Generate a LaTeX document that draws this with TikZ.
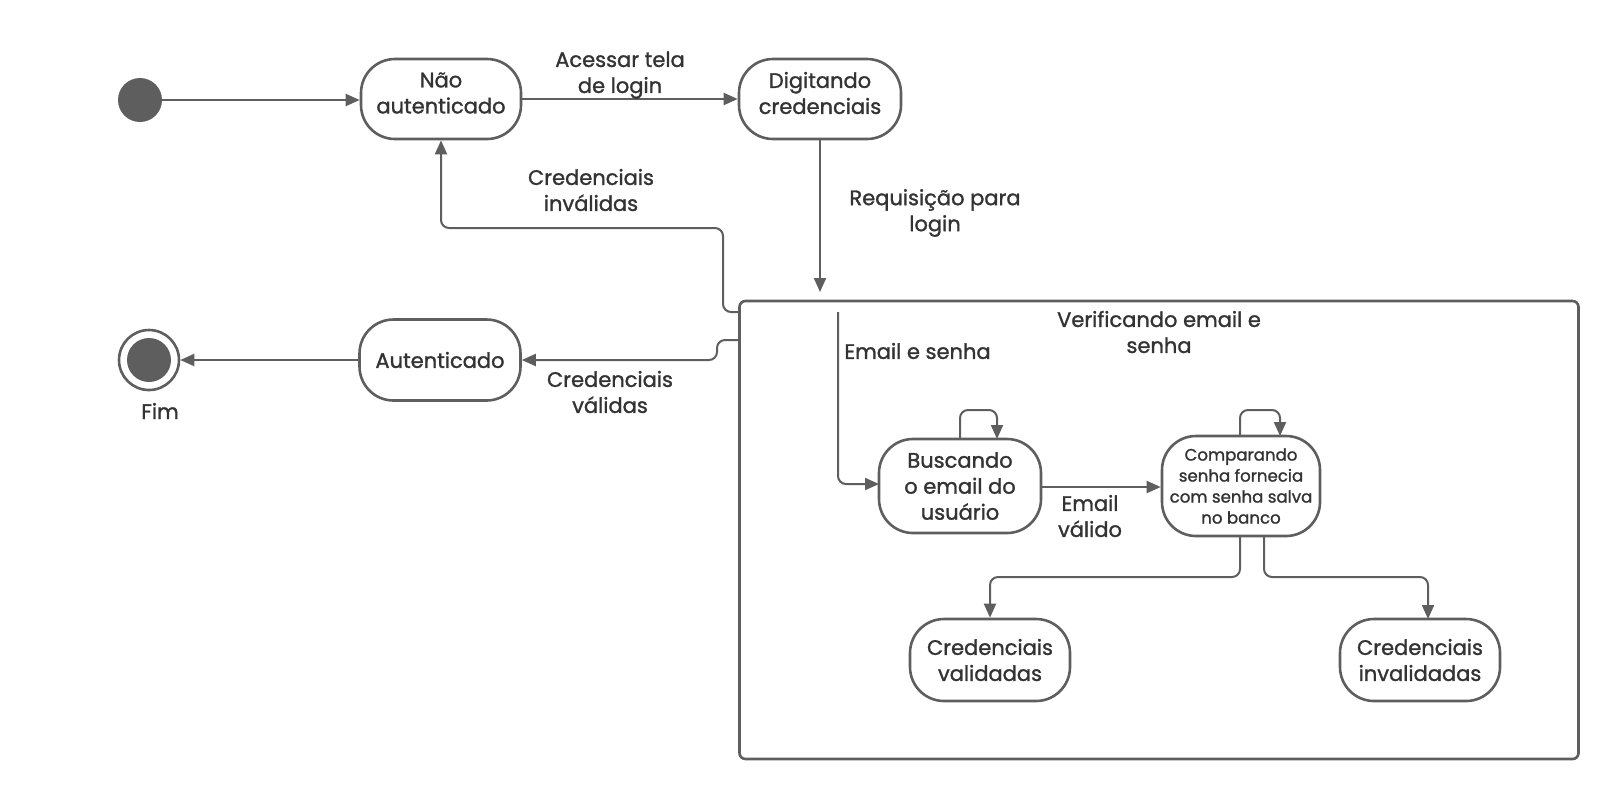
\documentclass[tikz,border=0pt]{standalone}
\usepackage{fontspec}
\setmainfont{Poppins}[FakeBold=1.3]
\usetikzlibrary{arrows.meta}
\definecolor{ln}{HTML}{5E5E5E}
\definecolor{tx}{HTML}{333333}
\begin{document}
\begin{tikzpicture}[x=0.5pt,y=-0.5pt,
  every node/.style={text=tx,font=\fontsize{10.5}{13}\selectfont},
  state/.style={draw=ln,line width=1.3pt,rounded corners=17pt,fill=white,align=center,inner sep=0pt},
  conn/.style={draw=ln,line width=1pt,rounded corners=4pt,-{Triangle[length=7pt,width=6pt]}},
  lbl/.style={align=center,inner sep=0pt},
  intext/.style={label={[lbl,yshift=3pt]center:#1}},
  small/.style={font=\fontsize{8.3}{10.5}\selectfont}]
\useasboundingbox (0,0) rectangle (1620,800);
% initial and final
\node[circle,fill=ln,minimum size=22pt,inner sep=0pt] (start) at (140,100) {};
\node[circle,draw=ln,line width=1.3pt,minimum size=30pt,inner sep=0pt] (fim) at (149,360) {};
\node[circle,fill=ln,minimum size=22pt,inner sep=0pt] (fimin) at (149,360) {};
\node[lbl] (fimlbl) at (160,411) {Fim};
% top states
\node[state,minimum width=80pt,minimum height=40pt,intext={Não\\autenticado}] (nao) at (441,99) {};
\node[state,minimum width=81pt,minimum height=40pt,intext={Digitando\\credenciais}] (dig) at (820,99) {};
\node[state,minimum width=80.5pt,minimum height=40.5pt] (aut) at (440,360) {Autenticado};
% composite box
\node[draw=ln,line width=1.3pt,rounded corners=3pt,minimum width=419.5pt,minimum height=229pt,inner sep=0pt] (box) at (1159,530) {};
\node[lbl] (boxlbl) at (1159,332) {Verificando email e\\senha};
% inner states
\node[state,minimum width=81pt,minimum height=47pt] (busc) at (960,486) {Buscando\\o email do\\usuário};
\node[state,small,minimum width=79pt,minimum height=50pt] (comp) at (1241,486) {Comparando\\senha fornecia\\com senha salva\\no banco};
\node[state,minimum width=80pt,minimum height=41pt] (cval) at (990,660) {Credenciais\\validadas};
\node[state,minimum width=80pt,minimum height=41pt] (cinv) at (1420,660) {Credenciais\\invalidadas};
% coordinates
\coordinate (reqend) at (820,292);
\coordinate (boxA) at (740,312);
\coordinate (boxB) at (740,340);
\coordinate (inA) at (838,312);
\coordinate (buscin) at (879,484);
% connectors
\draw[conn] (start) -- (nao.west |- start);
\draw[conn] (nao.east) -- (dig.west);
\draw[conn] (dig.south) -- (reqend);
\draw[conn] (boxA) -- (723,312) -- (723,228) -- (441,228) -- (nao.south);
\draw[conn] (boxB) -- (717,340) -- (717,360) -- (aut.east);
\draw[conn] (aut.west) -- (fim.east);
\draw[conn] (inA) -- (838,484) -- (buscin);
\draw[conn] (960,439) -- (960,410) -- (997,410) -- (997,439);
\draw[conn] (busc.east |- 0,487) -- (comp.west |- 0,487);
\draw[conn] (1240,436) -- (1240,410) -- (1280,410) -- (1280,436);
\draw[conn] (1240,536) -- (1240,577) -- (990,577) -- (cval.north);
\draw[conn] (1264,536) -- (1264,577) -- (1428,577) -- (1428,619);
% labels
\node[lbl] (l1) at (620,75) {Acessar tela\\de login};
\node[lbl] (l2) at (935,213) {Requisição para\\login};
\node[lbl] (l3) at (591,190) {Credenciais\\inválidas};
\node[lbl] (l4) at (610,392) {Credenciais\\válidas};
\node[lbl,anchor=west] (l5) at (844,351) {Email e senha};
\node[lbl] (l6) at (1090,516) {Email\\válido};
\end{tikzpicture}
\end{document}
